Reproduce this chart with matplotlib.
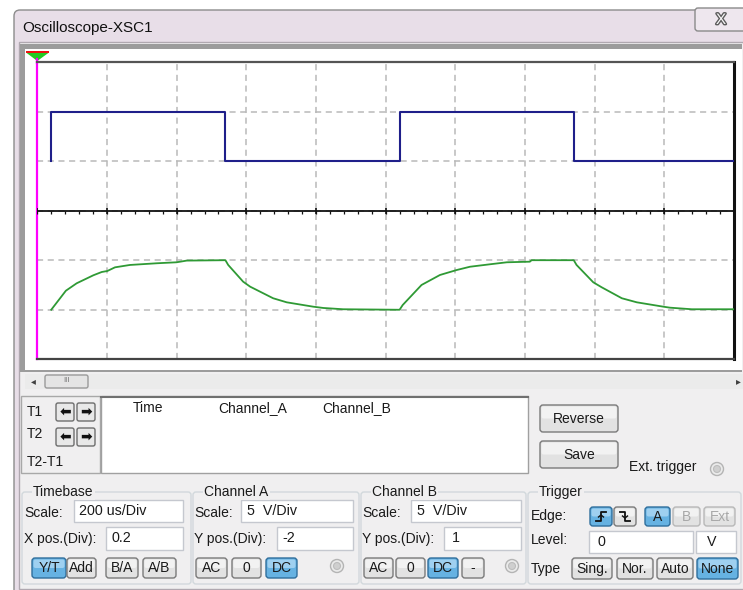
import numpy as np
import matplotlib.pyplot as plt
from matplotlib.patches import Rectangle, FancyBboxPatch, Circle, Polygon
import matplotlib.patheffects as pe

plt.rcParams['font.family'] = ['Liberation Sans', 'DejaVu Sans']

W, H = 743, 590

# scope settings shown in the control panel
time_per_div = 200      # us/Div
x_pos_div = 0.2
scale_a, ypos_a = 5, -2  # V/Div, Div
scale_b, ypos_b = 5, 1
n_xdiv, n_ydiv = 10, 6

# channel A: square wave (time in us, volts)
t_a = [0, 0, 500, 500, 1000, 1000, 1500, 1500, 1960]
v_a = [15, 20, 20, 15, 15, 20, 20, 15, 15]

# channel B: capacitor voltage (time in us, volts)
t_b = [0, 42, 73, 121, 145, 161, 183, 226, 303, 360, 389, 500,
       508, 551, 571, 637, 676, 752, 781, 838, 995, 1000,
       1009, 1063, 1116, 1164, 1202, 1260, 1308, 1374, 1379, 1500,
       1508, 1556, 1580, 1638, 1681, 1757, 1776, 1839, 1960]
v_b = [-15.0, -13.08, -12.33, -11.52, -11.19, -11.09, -10.72, -10.48, -10.31, -10.21, -10.04, -10.0,
       -10.48, -12.17, -12.67, -13.84, -14.25, -14.69, -14.82, -14.95, -15.0, -15.0,
       -14.52, -12.50, -11.49, -10.99, -10.66, -10.41, -10.21, -10.15, -10.0, -10.0,
       -10.48, -12.23, -12.73, -13.84, -14.25, -14.69, -14.79, -14.95, -14.95]

fig = plt.figure(figsize=(W / 100, H / 100), dpi=100)
fig.patch.set_facecolor('white')
bg = fig.add_axes([0, 0, 1, 1])
bg.set_xlim(0, W)
bg.set_ylim(H, 0)
bg.axis('off')

panel = '#f0eff0'
FS = 10


def rect(x0, y0, x1, y1, fc, ec='none', lw=1, z=1, r=0):
    if r:
        p = FancyBboxPatch((x0, y0), x1 - x0, y1 - y0,
                           boxstyle='round,pad=0,rounding_size=%g' % r,
                           fc=fc, ec=ec, lw=lw, zorder=z)
    else:
        p = Rectangle((x0, y0), x1 - x0, y1 - y0, fc=fc, ec=ec, lw=lw, zorder=z)
    bg.add_patch(p)
    return p


def label(x, y, s, size=FS, color='#1a1a1a', ha='left', **kw):
    return bg.text(x, y, s, fontsize=size, color=color, ha=ha, va='center', zorder=6, **kw)


def button(x0, x1, y0, y1, s, active=False, enabled=True, size=FS):
    if active:
        rect(x0, y0, x1, y1, '#66b2e2', '#2f6e9c', 1, 4, 3)
        rect(x0 + 1.5, y0 + 1.5, x1 - 1.5, (y0 + y1) / 2, '#9fd0f0', 'none', 0, 4, 2)
    else:
        rect(x0, y0, x1, y1, '#e2e2e2', '#7a7a7a' if enabled else '#b8b8b8', 1, 4, 3)
        rect(x0 + 1.5, y0 + 1.5, x1 - 1.5, (y0 + y1) / 2, '#f2f2f2', 'none', 0, 4, 2)
    if s:
        label((x0 + x1) / 2, (y0 + y1) / 2 + 0.5, s, size=size, ha='center',
              color='#1a1a1a' if enabled else '#a8a8a8')


def entry(x0, x1, y0, y1, s, tx=None):
    rect(x0, y0, x1, y1, 'white', '#c5c8cf', 1, 3)
    label(tx if tx is not None else x0 + 6, (y0 + y1) / 2, s, size=10.3)


def group(x0, x1, y0, y1, s):
    rect(x0, y0, x1, y1, 'none', '#d2d8dc', 1, 2, 3)
    label(x0 + 11, y0, s, bbox=dict(fc=panel, ec='none', pad=1))


def radio(cx, cy):
    bg.add_patch(Circle((cx, cy), 6.5, fc='#ebebeb', ec='#b4b4b4', lw=1, zorder=4))
    bg.add_patch(Circle((cx, cy), 3.5, fc='#cfcfcf', ec='#bdbdbd', lw=0.8, zorder=5))


# window chrome
rect(14, 10, 760, 600, '#e8dee8', '#8c8c8c', 1, 0, 6)
rect(695, 8, 752, 31, '#eee7ee', '#8a8a8a', 1, 1, 3)
label(721, 20, 'X', size=11, ha='center', color='#f8f8f8',
      path_effects=[pe.withStroke(linewidth=2, foreground='#5c5c5c')])
label(22, 28, 'Oscilloscope-XSC1', size=11, color='#101010')
rect(19, 42, 750, 589, panel, '#b0a8b0', 1, 1)

# scope screen frame
rect(20, 44, 742, 372, '#9c9c9c', 'none', 0, 2)
rect(25, 49, 742, 370, 'white', 'none', 0, 2)

# scrollbar
rect(25, 374, 743, 389, '#ebebeb', 'none', 0, 2)
label(33, 381.5, '◂', size=7, ha='center', color='#404040')
label(738, 381.5, '▸', size=7, ha='center', color='#404040')
rect(45, 375, 88, 388, '#e4e4e4', '#9a9a9a', 1, 3, 2)
label(66.5, 381, 'III', size=5.5, ha='center', color='#707070')

# cursor readout area
rect(21, 396, 100, 473, panel, '#a8a8a8', 1, 2)
rect(101, 396, 528, 473, 'white', '#a0a0a0', 1, 2)
bg.plot([101, 528], [396.5, 396.5], color='#707070', lw=1.5, zorder=3)
label(27, 412, 'T1')
label(27, 434, 'T2')
label(27, 462, 'T2-T1')
for yy in (412, 437):
    for xc, arrow in ((65, '⬅'), (86, '➡')):
        rect(xc - 9, yy - 9, xc + 9, yy + 9, '#e8e8e8', '#6e6e6e', 1, 4, 2)
        label(xc, yy, arrow, size=10, ha='center', color='#111111', fontweight='bold')
label(133, 408, 'Time')
label(218, 408, 'Channel_A')
label(322, 408, 'Channel_B')
button(540, 618, 405, 432, 'Reverse')
button(540, 618, 441, 468, 'Save')
label(629, 467, 'Ext. trigger')
radio(717, 469)

# timebase
group(22, 191, 492, 584, 'Timebase')
label(24, 513, 'Scale:')
entry(74, 183, 500, 522, '200 us/Div', tx=79)
label(24, 539, 'X pos.(Div):')
entry(106, 183, 527, 550, '0.2', tx=112)
button(32, 66, 558, 578, 'Y/T', active=True)
button(67, 96, 558, 578, 'Add')
button(106, 138, 558, 578, 'B/A')
button(143, 176, 558, 578, 'A/B')

# channel A
group(193, 359, 492, 584, 'Channel A')
label(194, 513, 'Scale:')
entry(241, 353, 500, 522, '5  V/Div', tx=247)
label(194, 539, 'Y pos.(Div):')
entry(277, 353, 527, 550, '-2', tx=282)
button(196, 227, 558, 578, 'AC')
button(232, 261, 558, 578, '0')
button(266, 297, 558, 578, 'DC', active=True)
radio(337, 566)

# channel B
group(361, 526, 492, 584, 'Channel B')
label(362, 513, 'Scale:')
entry(411, 521, 500, 522, '5  V/Div', tx=417)
label(362, 539, 'Y pos.(Div):')
entry(444, 521, 527, 550, '1', tx=452)
button(364, 393, 558, 578, 'AC')
button(396, 425, 558, 578, '0')
button(428, 458, 558, 578, 'DC', active=True)
button(462, 484, 558, 578, '-')
radio(512, 566)

# trigger
group(528, 741, 492, 584, 'Trigger')
label(531, 516, 'Edge:')
button(590, 612, 507, 526, '', active=True)
button(614, 636, 507, 526, '')
for xc, up in ((601, True), (625, False)):
    lo, hi = (521, 512) if up else (512, 521)
    bg.plot([xc - 5, xc, xc, xc + 5], [lo, lo, hi, hi], color='#111111', lw=1.3, zorder=7)
    bg.plot([xc - 2.5, xc, xc + 2.5], [517 if up else 516, 515 if up else 518, 517 if up else 516],
            color='#111111', lw=1, zorder=7)
button(645, 670, 507, 526, 'A', active=True)
button(673, 700, 507, 526, 'B', enabled=False)
button(704, 735, 507, 526, 'Ext', enabled=False)
label(531, 540, 'Level:')
entry(589, 693, 531, 553, '0', tx=597)
entry(696, 736, 531, 553, 'V', tx=707)
label(531, 569, 'Type')
button(572, 612, 558, 579, 'Sing.')
button(617, 653, 558, 579, 'Nor.')
button(657, 693, 558, 579, 'Auto')
button(697, 738, 558, 579, 'None', active=True)

# scope screen plot area
sx0, sx1, sy0, sy1 = 37.3, 734, 62, 359.3
ax = fig.add_axes([sx0 / W, 1 - sy1 / H, (sx1 - sx0) / W, (sy1 - sy0) / H])
ax.set_zorder(5)
ax.set_facecolor('white')
t_left = -x_pos_div * time_per_div
ax.set_xlim(t_left, t_left + n_xdiv * time_per_div)
ax.set_ylim(-n_ydiv / 2, n_ydiv / 2)
major = t_left + time_per_div * np.arange(n_xdiv + 1)
ax.set_xticks(major)
ax.set_yticks(np.arange(-n_ydiv // 2, n_ydiv // 2 + 1))
ax.tick_params(length=0, labelbottom=False, labelleft=False)
ax.grid(True, ls=(0, (4, 3)), color='#b9b9b9', lw=1.1)
for side, c, w in (('top', '#555555', 1.6), ('bottom', '#444444', 1.6),
                   ('right', '#111111', 2.2), ('left', '#ff00ff', 1.6)):
    ax.spines[side].set_color(c)
    ax.spines[side].set_linewidth(w)

# center axis with graticule ticks
ax.axhline(0, color='#111111', lw=1.3, zorder=3)
minor = t_left + time_per_div / 5 * np.arange(n_xdiv * 5 + 1)
ax.vlines(minor, -0.06, 0, color='#111111', lw=0.9, zorder=3)
ax.vlines(major, -0.07, 0.05, color='#111111', lw=1.2, zorder=3)

ya = np.array(v_a) / scale_a + ypos_a
yb = np.array(v_b) / scale_b + ypos_b
ax.plot(t_a, ya, color='#1f1f8a', lw=1.5, zorder=4)
ax.plot(t_b, yb, color='#2f9a35', lw=1.3, zorder=4)

# trigger marker above the screen
bg.add_patch(Polygon([[26, 52.5], [49, 52.5], [37.3, 61]], closed=True, fc='#22cc22', ec='none', zorder=7))
rect(26, 50.5, 49, 52.8, '#ee1111', 'none', 0, 7)
bg.plot([37.3, 37.3], [59, 63], color='#ff00ff', lw=1.6, zorder=7)
label(37, 56, '1', size=5, ha='center', color='white')

fig.savefig('out.png', dpi=100, facecolor=fig.get_facecolor())
